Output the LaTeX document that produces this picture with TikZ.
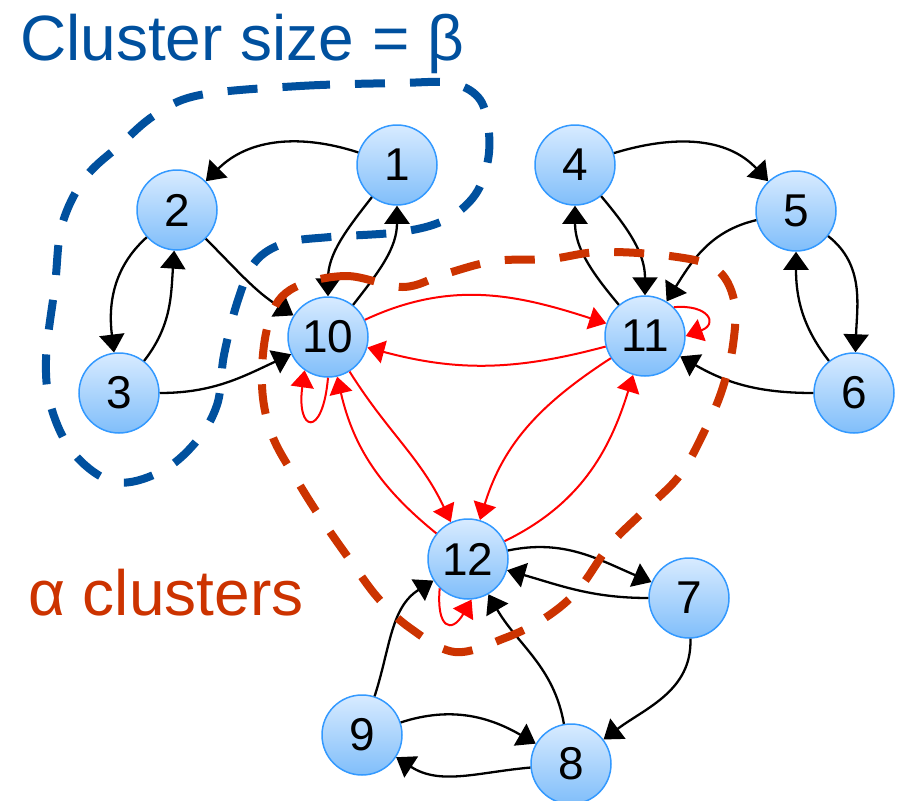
\documentclass[tikz,border=0pt]{standalone}
\usepackage{fontspec}
\setmainfont{Liberation Sans}
\usetikzlibrary{arrows.meta}
\definecolor{blueclust}{RGB}{0,80,158}
\definecolor{orangeclust}{RGB}{204,51,0}
\definecolor{nodeborder}{RGB}{51,153,255}
\definecolor{nodetop}{RGB}{216,235,255}
\definecolor{nodebottom}{RGB}{128,190,250}
\tikzset{
  vtx/.style={circle, draw=nodeborder, line width=1.5pt, top color=nodetop, bottom color=nodebottom,
    minimum size=80pt, inner sep=0pt, font=\fontsize{46}{46}\selectfont},
  blk/.style={black, line width=2.3pt, -{Triangle[length=18pt,width=25pt]}},
  rd/.style={red, line width=2pt, -{Triangle[length=17pt,width=23pt]}},
  clusterline/.style={line width=8pt, dash pattern=on 30pt off 25pt, line cap=butt},
  bigtext/.style={font=\fontsize{64}{64}\selectfont, anchor=base west, inner sep=0pt}
}
\begin{document}
\begin{tikzpicture}[x=1pt,y=1pt]
\useasboundingbox (0,-801) rectangle (903,0);
% nodes
\node[vtx] (n1) at (397,-165) {1};
\node[vtx] (n2) at (177,-210) {2};
\node[vtx] (n3) at (119,-393) {3};
\node[vtx] (n4) at (575,-165) {4};
\node[vtx] (n5) at (796,-211) {5};
\node[vtx] (n6) at (854,-393) {6};
\node[vtx] (n10) at (328,-337) {10};
\node[vtx] (n11) at (645,-336) {11};
\node[vtx] (n12) at (468,-559) {12};
\node[vtx] (n7) at (689,-598) {7};
\node[vtx] (n8) at (571,-764) {8};
\node[vtx] (n9) at (362,-735) {9};
% black edges
\draw[blk] (n1) to[out=162,in=45] (n2);
\draw[blk] (n2) to[out=222,in=97] (n3);
\draw[blk] (n3) to[out=52,in=266] (n2);
\draw[blk] (n2) to[out=-45,in=148] (n10);
\draw[blk] (n3) to[out=0,in=205] (n10);
\draw[blk] (n1) to[out=232,in=90] (n10);
\draw[blk] (n10) to[out=52,in=270] (n1);
\draw[blk] (n4) to[out=17,in=133] (n5);
\draw[blk] (n4) to[out=-50,in=90] (n11);
\draw[blk] (n11) to[out=130,in=270] (n4);
\draw[blk] (n5) to[out=193,in=58] (n11);
\draw[blk] (n6) to[out=128,in=270] (n5);
\draw[blk] (n5) to[out=-38,in=88] (n6);
\draw[blk] (n6) to[out=180,in=-30] (n11);
\draw[blk] (n12) to[out=12,in=157] (n7);
\draw[blk] (n7) to[out=180,in=-16] (n12);
\draw[blk] (n7) to[out=-88,in=37] (n8);
\draw[blk] (n8) to[out=100,in=-60] (n12);
\draw[blk] (n9) to[out=72,in=212] (n12);
\draw[blk] (n9) to[out=18,in=150] (n8);
\draw[blk] (n8) to[out=185,in=-33] (n9);
% red edges
\draw[rd] (n10) to[out=25,in=162] (n11);
\draw[rd] (n11) to[out=195,in=-15] (n10);
\draw[rd] (n11.45) .. controls +(5:35) and +(20:35) .. (n11.0);
\draw[rd] (n10.270) .. controls +(265:62) and +(262:62) .. (n10.235);
\draw[rd] (n10) to[out=-58,in=115] (n12);
\draw[rd] (n12) to[out=141,in=-77] (n10);
\draw[rd] (n11) to[out=213,in=73] (n12);
\draw[rd] (n12) to[out=26,in=-107] (n11);
\draw[rd] (n12.226) .. controls +(265:40) and +(240:40) .. (n12.275);
% clusters
\draw[clusterline, blueclust] plot[smooth cycle, tension=0.6] coordinates {
  (200,-95) (300,-86) (400,-83) (450,-83) (478,-97) (488,-125) (488,-160) (475,-195)
  (445,-220) (400,-232) (330,-237) (285,-243) (255,-262) (238,-300) (224,-355)
  (217,-405) (195,-443) (160,-472) (115,-482) (75,-455) (52,-410) (46,-360)
  (55,-285) (62,-225) (85,-178) (120,-145) (155,-115)};
\draw[clusterline, orangeclust] plot[smooth cycle, tension=0.6] coordinates {
  (290,-290) (345,-276) (403,-287) (445,-274) (495,-261) (550,-259) (600,-252)
  (670,-256) (715,-268) (734,-300) (733,-345) (722,-390) (705,-430) (680,-475)
  (645,-510) (610,-545) (578,-590) (545,-618) (505,-638) (455,-652) (410,-628)
  (378,-598) (350,-560) (322,-520) (298,-482) (272,-435) (262,-385) (268,-325)};
% labels
\node[bigtext, text=blueclust] (lblbeta) at (20,-60) {Cluster size = β};
\node[bigtext, text=orangeclust] (lblalpha) at (28,-615) {α clusters};
\end{tikzpicture}
\end{document}
